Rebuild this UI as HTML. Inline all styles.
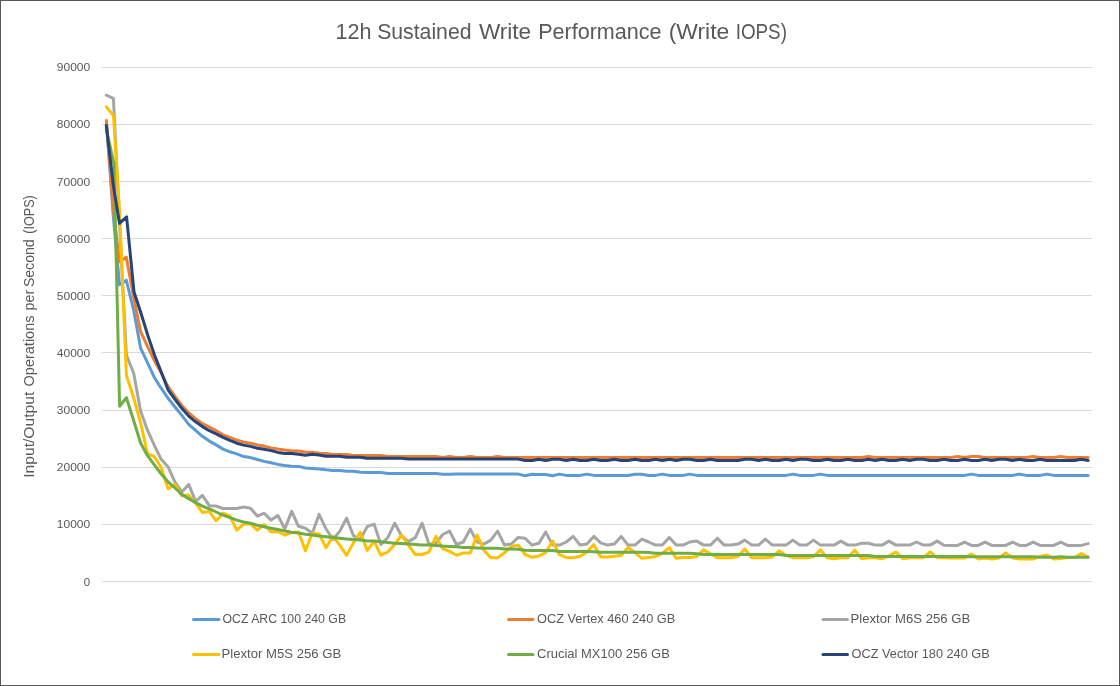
<!DOCTYPE html>
<html lang="en"><head><meta charset="utf-8"><title>12h Sustained Write Performance (Write IOPS)</title>
<style>
html,body{margin:0;padding:0;background:#fff;}
body{width:1120px;height:686px;overflow:hidden;font-family:"Liberation Sans",sans-serif;}
svg{display:block;}
text{font-family:"Liberation Sans",sans-serif;fill:#595959;}
.ln{fill:none;stroke-width:3;stroke-linejoin:round;stroke-linecap:round;}
</style></head><body>
<svg width="1120" height="686" viewBox="0 0 1120 686">
<rect x="0.5" y="0.5" width="1119" height="685" fill="#fff" stroke="#575757" stroke-width="1"/>

<g stroke="#D9D9D9" stroke-width="1" shape-rendering="crispEdges">
<line x1="102" y1="581.5" x2="1091.6" y2="581.5"/>
<line x1="102" y1="524.5" x2="1091.6" y2="524.5"/>
<line x1="102" y1="467.5" x2="1091.6" y2="467.5"/>
<line x1="102" y1="410.5" x2="1091.6" y2="410.5"/>
<line x1="102" y1="352.5" x2="1091.6" y2="352.5"/>
<line x1="102" y1="295.5" x2="1091.6" y2="295.5"/>
<line x1="102" y1="238.5" x2="1091.6" y2="238.5"/>
<line x1="102" y1="181.5" x2="1091.6" y2="181.5"/>
<line x1="102" y1="124.5" x2="1091.6" y2="124.5"/>
<line x1="102" y1="67.5" x2="1091.6" y2="67.5"/>
</g>
<g font-size="11.3">
<text x="83.80" y="585.8" textLength="6.39" lengthAdjust="spacingAndGlyphs">0</text>
<text x="56.80" y="527.8" textLength="33.46" lengthAdjust="spacingAndGlyphs">10000</text>
<text x="56.80" y="470.8" textLength="33.46" lengthAdjust="spacingAndGlyphs">20000</text>
<text x="56.80" y="413.8" textLength="33.46" lengthAdjust="spacingAndGlyphs">30000</text>
<text x="56.80" y="356.8" textLength="33.46" lengthAdjust="spacingAndGlyphs">40000</text>
<text x="56.80" y="299.8" textLength="33.46" lengthAdjust="spacingAndGlyphs">50000</text>
<text x="56.80" y="242.8" textLength="33.46" lengthAdjust="spacingAndGlyphs">60000</text>
<text x="56.80" y="185.8" textLength="33.46" lengthAdjust="spacingAndGlyphs">70000</text>
<text x="56.80" y="127.8" textLength="33.46" lengthAdjust="spacingAndGlyphs">80000</text>
<text x="56.80" y="70.8" textLength="33.46" lengthAdjust="spacingAndGlyphs">90000</text>
</g>
<text y="38.9" font-size="21.9"><tspan x="335.60" textLength="36.01" lengthAdjust="spacingAndGlyphs">12h</tspan> <tspan x="377.20" textLength="94.30" lengthAdjust="spacingAndGlyphs">Sustained</tspan> <tspan x="478.90" textLength="52.21" lengthAdjust="spacingAndGlyphs">Write</tspan> <tspan x="538.20" textLength="123.31" lengthAdjust="spacingAndGlyphs">Performance</tspan> <tspan x="668.70" textLength="60.56" lengthAdjust="spacingAndGlyphs">(Write</tspan> <tspan x="735.70" textLength="51.26" lengthAdjust="spacingAndGlyphs">IOPS)</tspan></text>
<text transform="translate(33.6,477) rotate(-90)" font-size="15"><tspan x="-0.80" textLength="86.09" lengthAdjust="spacingAndGlyphs">Input/Output</tspan> <tspan x="90.60" textLength="70.86" lengthAdjust="spacingAndGlyphs">Operations</tspan> <tspan x="166.60" textLength="20.68" lengthAdjust="spacingAndGlyphs">per</tspan> <tspan x="189.90" textLength="47.76" lengthAdjust="spacingAndGlyphs">Second</tspan> <tspan x="243.20" textLength="38.59" lengthAdjust="spacingAndGlyphs">(IOPS)</tspan></text>
<polyline class="ln" stroke="#5B9BD5" points="106.4,122.0 113.3,216.0 119.5,284.8 126.3,280.2 133.8,311.0 140.6,348.1 147.5,362.6 154.4,377.6 161.2,388.2 168.1,398.3 175.0,407.0 181.8,415.4 188.7,424.3 195.6,430.3 202.4,436.3 209.3,441.1 216.2,444.9 223.0,449.1 229.9,451.8 236.8,453.9 243.6,456.6 250.5,457.6 257.4,459.5 264.2,461.4 271.1,462.7 277.9,464.4 284.8,465.4 291.7,466.2 298.5,466.4 305.4,468.0 312.3,468.4 319.1,469.0 326.0,469.8 332.9,470.4 339.7,470.4 346.6,471.3 353.5,471.3 360.3,472.3 367.2,472.5 374.1,472.5 380.9,472.5 387.8,473.5 394.7,473.5 401.5,473.5 408.4,473.5 415.3,473.5 422.1,473.5 429.0,473.5 435.9,473.5 442.7,474.3 449.6,474.2 456.5,474.1 463.3,474.1 470.2,474.1 477.1,474.1 483.9,474.1 490.8,474.1 497.7,474.1 504.5,474.1 511.4,474.1 518.3,474.1 525.1,475.7 532.0,474.2 538.9,474.5 545.7,474.5 552.6,475.7 559.5,474.1 566.3,475.4 573.2,475.6 580.1,475.4 586.9,474.1 593.8,475.4 600.7,475.4 607.5,475.4 614.4,475.4 621.2,475.4 628.1,475.4 635.0,474.2 641.8,474.3 648.7,475.4 655.6,475.4 662.4,474.1 669.3,475.4 676.2,475.4 683.0,475.4 689.9,474.1 696.8,475.4 703.6,475.4 710.5,475.4 717.4,475.4 724.2,475.4 731.1,475.4 738.0,475.4 744.8,475.4 751.7,475.4 758.6,475.4 765.4,475.4 772.3,475.4 779.2,475.4 786.0,475.4 792.9,474.1 799.8,475.4 806.6,475.4 813.5,475.4 820.4,474.1 827.2,475.4 834.1,475.4 841.0,475.4 847.8,475.4 854.7,475.4 861.6,475.4 868.4,475.4 875.3,475.4 882.2,475.4 889.0,475.4 895.9,475.4 902.8,475.4 909.6,475.4 916.5,475.4 923.4,475.4 930.2,475.4 937.1,475.4 944.0,475.4 950.8,475.4 957.7,475.4 964.5,475.4 971.4,474.1 978.3,475.4 985.1,475.4 992.0,475.4 998.9,475.4 1005.7,475.4 1012.6,475.4 1019.5,474.1 1026.3,475.4 1033.2,475.4 1040.1,475.4 1046.9,474.1 1053.8,475.4 1060.7,475.4 1067.5,475.4 1074.4,475.4 1081.3,475.4 1088.1,475.4"/>
<polyline class="ln" stroke="#ED7D31" points="106.4,120.5 113.3,210.0 119.5,261.8 126.3,257.2 133.8,298.0 140.6,331.6 147.5,346.3 154.4,360.7 161.2,372.8 168.1,386.6 175.0,396.4 181.8,405.4 188.7,412.9 195.6,418.7 202.4,423.7 209.3,427.2 216.2,430.7 223.0,434.8 229.9,437.3 236.8,440.1 243.6,442.0 250.5,443.2 257.4,444.9 264.2,446.1 271.1,447.9 277.9,449.1 284.8,450.1 291.7,450.9 298.5,451.1 305.4,452.0 312.3,452.3 319.1,453.2 326.0,453.6 332.9,454.4 339.7,454.6 346.6,454.6 353.5,455.5 360.3,455.6 367.2,455.6 374.1,455.6 380.9,455.6 387.8,456.5 394.7,456.5 401.5,456.5 408.4,456.5 415.3,456.5 422.1,456.5 429.0,456.5 435.9,456.5 442.7,457.5 449.6,456.6 456.5,457.5 463.3,457.5 470.2,456.6 477.1,457.5 483.9,457.5 490.8,457.5 497.7,456.6 504.5,457.5 511.4,457.5 518.3,457.5 525.1,457.5 532.0,457.5 538.9,457.5 545.7,457.5 552.6,457.5 559.5,457.5 566.3,457.5 573.2,457.5 580.1,457.5 586.9,457.5 593.8,457.5 600.7,457.5 607.5,457.5 614.4,457.5 621.2,457.5 628.1,457.5 635.0,457.5 641.8,457.5 648.7,457.5 655.6,457.5 662.4,457.5 669.3,457.5 676.2,457.5 683.0,457.5 689.9,457.5 696.8,457.5 703.6,457.5 710.5,457.5 717.4,457.5 724.2,457.5 731.1,457.5 738.0,457.5 744.8,457.5 751.7,457.5 758.6,457.5 765.4,457.5 772.3,457.5 779.2,457.5 786.0,457.5 792.9,457.5 799.8,457.5 806.6,457.5 813.5,457.5 820.4,457.5 827.2,457.5 834.1,457.5 841.0,457.5 847.8,457.5 854.7,457.5 861.6,457.5 868.4,456.5 875.3,457.5 882.2,457.5 889.0,457.5 895.9,457.5 902.8,457.5 909.6,457.5 916.5,457.5 923.4,457.5 930.2,457.5 937.1,457.5 944.0,457.5 950.8,457.5 957.7,456.5 964.5,457.5 971.4,456.5 978.3,456.5 985.1,457.5 992.0,457.5 998.9,457.5 1005.7,457.5 1012.6,457.5 1019.5,457.5 1026.3,457.5 1033.2,456.5 1040.1,457.5 1046.9,457.5 1053.8,457.5 1060.7,456.5 1067.5,457.5 1074.4,457.5 1081.3,457.5 1088.1,457.5"/>
<polyline class="ln" stroke="#A5A5A5" points="106.3,95.2 113.4,98.3 119.6,225.0 126.4,355.0 133.7,373.3 140.6,411.0 147.5,430.2 154.4,445.5 161.2,459.3 168.1,466.9 175.0,482.2 181.8,491.9 188.7,484.4 195.6,501.3 202.4,495.3 209.3,505.7 216.2,506.1 223.0,508.5 229.9,508.5 236.8,508.5 243.6,507.0 250.5,508.2 257.4,516.1 264.2,513.2 271.1,520.1 277.9,515.5 284.8,528.9 291.7,511.4 298.5,526.3 305.4,528.2 312.3,533.2 319.1,514.4 326.0,528.8 332.9,539.5 339.7,531.4 346.6,518.2 353.5,535.7 360.3,539.5 367.2,526.6 374.1,524.1 380.9,544.5 387.8,537.6 394.7,523.2 401.5,535.7 408.4,541.6 415.3,537.6 422.1,523.2 429.0,544.2 435.9,543.3 442.7,534.5 449.6,531.1 456.5,544.5 463.3,542.0 470.2,529.1 477.1,542.0 483.9,544.1 490.8,540.1 497.7,531.1 504.5,545.1 511.4,543.9 518.3,537.4 525.1,538.2 532.0,545.1 538.9,543.3 545.7,532.0 552.6,545.1 559.5,545.1 566.3,542.0 573.2,536.4 580.1,545.1 586.9,544.1 593.8,536.4 600.7,542.9 607.5,545.1 614.4,544.1 621.2,536.4 628.1,545.1 635.0,545.1 641.8,539.2 648.7,542.0 655.6,545.1 662.4,545.1 669.3,537.4 676.2,545.1 683.0,545.1 689.9,542.0 696.8,541.1 703.6,545.1 710.5,545.1 717.4,538.2 724.2,545.1 731.1,545.1 738.0,544.1 744.8,540.1 751.7,545.1 758.6,545.1 765.4,539.1 772.3,545.1 779.2,545.1 786.0,545.1 792.9,540.1 799.8,545.1 806.6,545.1 813.5,540.1 820.4,545.1 827.2,545.1 834.1,545.1 841.0,541.1 847.8,545.1 854.7,545.1 861.6,543.3 868.4,543.3 875.3,545.1 882.2,545.1 889.0,541.1 895.9,545.1 902.8,545.1 909.6,545.1 916.5,542.0 923.4,545.1 930.2,545.1 937.1,541.1 944.0,545.3 950.8,545.4 957.7,545.4 964.5,542.1 971.4,545.4 978.3,545.4 985.1,542.1 992.0,545.4 998.9,545.4 1005.7,545.4 1012.6,542.1 1019.5,545.4 1026.3,545.4 1033.2,542.1 1040.1,545.4 1046.9,545.4 1053.8,545.4 1060.7,542.1 1067.5,545.4 1074.4,545.4 1081.3,545.4 1088.1,543.6"/>
<polyline class="ln" stroke="#FFC000" points="106.3,106.9 113.5,115.6 119.6,212.0 126.4,375.3 133.8,398.2 140.6,423.0 147.5,453.7 154.4,456.7 161.2,467.5 168.1,488.8 175.0,484.4 181.8,495.7 188.7,495.1 195.6,503.2 202.4,512.4 209.3,511.4 216.2,520.8 223.0,513.2 229.9,516.1 236.8,530.2 243.6,524.1 250.5,523.9 257.4,530.2 264.2,524.5 271.1,532.0 277.9,531.4 284.8,535.2 291.7,532.6 298.5,532.0 305.4,550.8 312.3,533.2 319.1,533.9 326.0,547.6 332.9,536.4 339.7,545.1 346.6,555.4 353.5,542.6 360.3,532.4 367.2,550.4 374.1,541.4 380.9,555.2 387.8,552.0 394.7,544.5 401.5,535.1 408.4,545.1 415.3,554.5 422.1,554.5 429.0,552.0 435.9,536.4 442.7,548.6 449.6,551.4 456.5,555.2 463.3,553.0 470.2,553.0 477.1,535.1 483.9,550.2 490.8,557.7 497.7,557.7 504.5,552.7 511.4,546.4 518.3,545.1 525.1,554.5 532.0,557.3 538.9,556.0 545.7,552.7 552.6,541.1 559.5,554.7 566.3,557.4 573.2,557.7 580.1,556.2 586.9,552.0 593.8,544.5 600.7,557.0 607.5,557.0 614.4,556.2 621.2,555.2 628.1,547.4 635.0,552.7 641.8,558.3 648.7,557.4 655.6,556.4 662.4,553.3 669.3,547.6 676.2,558.3 683.0,557.5 689.9,557.4 696.8,556.4 703.6,549.9 710.5,553.9 717.4,557.7 724.2,557.7 731.1,557.7 738.0,556.2 744.8,548.9 751.7,557.7 758.6,557.7 765.4,557.7 772.3,557.0 779.2,550.8 786.0,555.4 792.9,557.7 799.8,557.7 806.6,557.7 813.5,556.7 820.4,549.9 827.2,557.7 834.1,558.7 841.0,557.7 847.8,557.7 854.7,550.2 861.6,558.7 868.4,557.7 875.3,557.7 882.2,558.7 889.0,555.8 895.9,552.0 902.8,558.7 909.6,557.7 916.5,557.7 923.4,557.7 930.2,552.0 937.1,557.7 944.0,557.8 950.8,557.9 957.7,557.9 964.5,557.9 971.4,554.0 978.3,558.9 985.1,557.9 992.0,558.9 998.9,557.9 1005.7,552.9 1012.6,557.9 1019.5,559.0 1026.3,559.0 1033.2,559.0 1040.1,556.4 1046.9,555.0 1053.8,558.9 1060.7,558.5 1067.5,557.6 1074.4,557.6 1081.3,553.6 1088.1,557.1"/>
<polyline class="ln" stroke="#70AD47" points="106.3,129.0 114.0,164.0 119.6,406.3 126.4,397.7 133.8,421.0 140.6,443.0 147.5,455.7 154.4,464.9 161.2,474.0 168.1,481.8 175.0,488.0 181.8,494.4 188.7,498.6 195.6,502.6 202.4,506.1 209.3,508.9 216.2,512.0 223.0,515.1 229.9,517.6 236.8,520.1 243.6,522.0 250.5,523.3 257.4,525.2 264.2,526.8 271.1,528.3 277.9,529.5 284.8,531.0 291.7,532.2 298.5,533.1 305.4,534.2 312.3,535.1 319.1,536.1 326.0,536.7 332.9,537.6 339.7,538.2 346.6,539.1 353.5,539.5 360.3,540.1 367.2,541.0 374.1,541.1 380.9,541.8 387.8,542.4 394.7,543.3 401.5,543.6 408.4,544.1 415.3,544.5 422.1,545.0 429.0,545.1 435.9,545.4 442.7,546.1 449.6,546.4 456.5,546.8 463.3,547.4 470.2,547.6 477.1,548.0 483.9,548.3 490.8,548.3 497.7,548.3 504.5,548.9 511.4,549.1 518.3,549.3 525.1,550.2 532.0,550.4 538.9,550.4 545.7,550.5 552.6,550.6 559.5,551.4 566.3,551.4 573.2,551.4 580.1,551.4 586.9,551.4 593.8,551.7 600.7,552.3 607.5,552.3 614.4,552.3 621.2,552.3 628.1,552.3 635.0,552.3 641.8,552.3 648.7,552.4 655.6,553.3 662.4,553.3 669.3,553.3 676.2,553.3 683.0,553.2 689.9,553.3 696.8,553.7 703.6,554.5 710.5,554.5 717.4,554.5 724.2,554.5 731.1,554.5 738.0,554.5 744.8,554.5 751.7,554.5 758.6,554.5 765.4,554.5 772.3,554.5 779.2,554.5 786.0,555.4 792.9,555.4 799.8,555.4 806.6,555.4 813.5,555.4 820.4,555.4 827.2,555.4 834.1,555.4 841.0,555.4 847.8,555.4 854.7,555.4 861.6,555.4 868.4,555.4 875.3,556.5 882.2,556.5 889.0,556.5 895.9,556.5 902.8,556.5 909.6,556.5 916.5,556.5 923.4,556.5 930.2,556.5 937.1,556.5 944.0,556.5 950.8,556.5 957.7,556.5 964.5,556.5 971.4,556.8 978.3,556.8 985.1,556.8 992.0,556.8 998.9,556.8 1005.7,556.8 1012.6,556.8 1019.5,556.8 1026.3,556.8 1033.2,556.8 1040.1,557.3 1046.9,557.3 1053.8,557.3 1060.7,556.7 1067.5,557.3 1074.4,557.3 1081.3,557.3 1088.1,557.3"/>
<polyline class="ln" stroke="#264478" points="106.3,125.4 113.4,186.0 119.5,223.3 126.6,216.8 134.0,292.0 140.6,312.0 147.5,334.4 154.4,354.8 161.2,372.0 168.1,389.9 175.0,399.3 181.8,408.3 188.7,416.1 195.6,421.8 202.4,426.6 209.3,430.7 216.2,433.8 223.0,437.3 229.9,440.4 236.8,443.2 243.6,445.1 250.5,446.4 257.4,448.2 264.2,449.2 271.1,450.6 277.9,452.4 284.8,453.4 291.7,453.4 298.5,454.3 305.4,455.3 312.3,454.2 319.1,455.0 326.0,456.3 332.9,456.3 339.7,456.3 346.6,457.3 353.5,457.3 360.3,457.3 367.2,458.3 374.1,458.3 380.9,458.3 387.8,458.3 394.7,458.3 401.5,458.3 408.4,459.1 415.3,459.1 422.1,459.1 429.0,459.1 435.9,459.1 442.7,459.1 449.6,459.1 456.5,459.1 463.3,459.1 470.2,459.1 477.1,459.1 483.9,459.1 490.8,459.1 497.7,459.1 504.5,459.1 511.4,459.1 518.3,459.1 525.1,460.5 532.0,460.5 538.9,459.2 545.7,460.5 552.6,459.2 559.5,459.2 566.3,460.5 573.2,459.2 580.1,460.5 586.9,460.5 593.8,459.2 600.7,460.5 607.5,460.5 614.4,459.2 621.2,460.5 628.1,460.5 635.0,459.2 641.8,460.5 648.7,460.5 655.6,459.2 662.4,460.5 669.3,459.2 676.2,460.5 683.0,459.2 689.9,459.2 696.8,460.5 703.6,460.5 710.5,459.2 717.4,460.5 724.2,460.5 731.1,460.5 738.0,460.5 744.8,459.2 751.7,459.2 758.6,460.5 765.4,459.2 772.3,460.5 779.2,460.5 786.0,459.2 792.9,460.5 799.8,459.2 806.6,459.2 813.5,460.5 820.4,460.5 827.2,459.2 834.1,460.5 841.0,460.5 847.8,459.2 854.7,460.5 861.6,460.5 868.4,459.2 875.3,460.5 882.2,459.2 889.0,460.5 895.9,460.5 902.8,459.2 909.6,460.5 916.5,459.2 923.4,459.2 930.2,460.5 937.1,460.5 944.0,459.2 950.8,460.5 957.7,460.5 964.5,459.2 971.4,460.5 978.3,460.5 985.1,459.2 992.0,460.5 998.9,459.2 1005.7,459.2 1012.6,460.5 1019.5,459.2 1026.3,460.5 1033.2,460.5 1040.1,459.2 1046.9,460.5 1053.8,460.5 1060.7,460.5 1067.5,460.5 1074.4,460.5 1081.3,459.2 1088.1,460.5"/>
<g font-size="13.7">
<line x1="193.5" y1="619.5" x2="219.0" y2="619.5" stroke="#5B9BD5" stroke-width="3" stroke-linecap="round"/>
<text x="222.5" y="622.9" textLength="123.6" lengthAdjust="spacingAndGlyphs">OCZ ARC 100 240 GB</text>
<line x1="508.5" y1="619.5" x2="533.0" y2="619.5" stroke="#ED7D31" stroke-width="3" stroke-linecap="round"/>
<text x="537.0" y="622.9" textLength="138.3" lengthAdjust="spacingAndGlyphs">OCZ Vertex 460 240 GB</text>
<line x1="823.0" y1="619.5" x2="847.5" y2="619.5" stroke="#A5A5A5" stroke-width="3" stroke-linecap="round"/>
<text x="850.5" y="622.9" textLength="119.7" lengthAdjust="spacingAndGlyphs">Plextor M6S 256 GB</text>
<line x1="193.5" y1="654.5" x2="219.0" y2="654.5" stroke="#FFC000" stroke-width="3" stroke-linecap="round"/>
<text x="221.5" y="657.9" textLength="119.7" lengthAdjust="spacingAndGlyphs">Plextor M5S 256 GB</text>
<line x1="508.5" y1="654.5" x2="533.0" y2="654.5" stroke="#70AD47" stroke-width="3" stroke-linecap="round"/>
<text x="537.0" y="657.9" textLength="132.9" lengthAdjust="spacingAndGlyphs">Crucial MX100 256 GB</text>
<line x1="823.0" y1="654.5" x2="847.5" y2="654.5" stroke="#264478" stroke-width="3" stroke-linecap="round"/>
<text x="851.5" y="657.9" textLength="138.3" lengthAdjust="spacingAndGlyphs">OCZ Vector 180 240 GB</text>
</g>
</svg></body></html>
